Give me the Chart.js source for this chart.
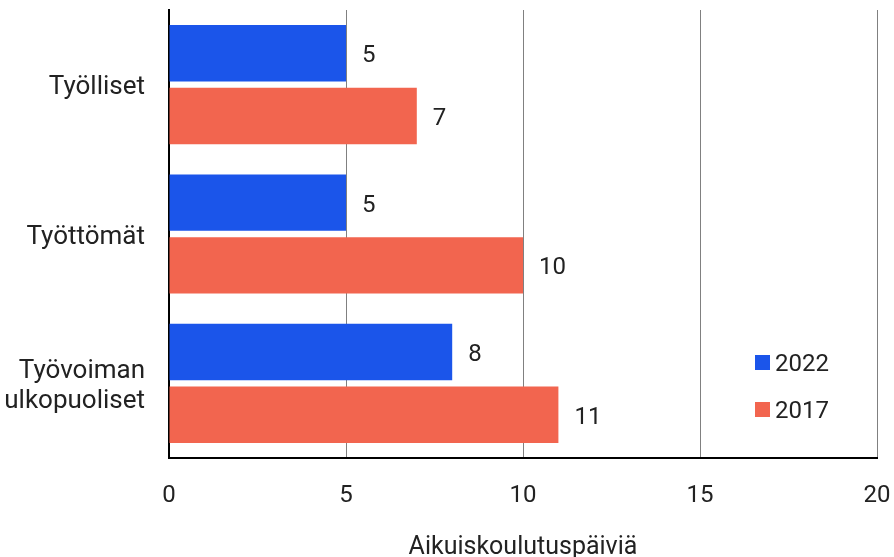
<!DOCTYPE html>
<html><head><meta charset="utf-8">
<script src="https://cdn.jsdelivr.net/npm/chart.js@4"></script>
<style>html,body{margin:0;padding:0;background:#fff}#wrap{width:894px;height:557px}</style>
</head><body><div id="wrap"><canvas id="c" width="894" height="557"></canvas></div>
<script>
const categories = [["Työlliset"], ["Työttömät"], ["Työvoiman", "ulkopuoliset"]];
const seriesNames = ["2022", "2017"];
const values2022 = [5, 5, 8];
const values2017 = [7, 10, 11];
const xTicks = [0, 5, 10, 15, 20];
const axisTitle = "Aikuiskoulutuspäiviä";
const colors = ["#1b55ea", "#f2654f"];
const FONT = "Roboto, 'Liberation Sans', sans-serif";
const FS = 24;

const labelPlugin = {
  id: 'valLabels',
  afterDatasetsDraw(chart) {
    const ctx = chart.ctx;
    ctx.save();
    ctx.font = FS + "px " + FONT;
    ctx.fillStyle = "#222";
    ctx.textAlign = "left";
    ctx.textBaseline = "middle";
    chart.data.datasets.forEach((ds, i) => {
      chart.getDatasetMeta(i).data.forEach((bar, j) => {
        ctx.fillText(String(ds.data[j]), bar.x + 16, bar.y + 3);
      });
    });
    ctx.restore();
  }
};

const legendPlugin = {
  id: 'insideLegend',
  afterDraw(chart) {
    const ctx = chart.ctx;
    const a = chart.chartArea;
    ctx.save();
    ctx.font = FS + "px " + FONT;
    ctx.textBaseline = "middle";
    ctx.textAlign = "left";
    chart.data.datasets.forEach((ds, i) => {
      const y = a.top + 353 + i * 47;
      ctx.fillStyle = ds.backgroundColor;
      ctx.fillRect(a.left + 586, y - 8, 15, 15);
      ctx.fillStyle = "#222";
      ctx.fillText(ds.label, a.left + 606, y + 2);
    });
    ctx.restore();
  }
};

new Chart(document.getElementById('c'), {
  type: 'bar',
  data: {
    labels: categories,
    datasets: [
      { label: seriesNames[0], data: values2022, backgroundColor: colors[0] },
      { label: seriesNames[1], data: values2017, backgroundColor: colors[1] }
    ]
  },
  options: {
    indexAxis: 'y',
    responsive: false,
    animation: false,
    devicePixelRatio: 1,
    layout: { padding: { top: 10, right: 17, left: 0, bottom: 0 } },
    datasets: { bar: { categoryPercentage: 0.84, barPercentage: 0.9 } },
    plugins: { legend: { display: false }, tooltip: { enabled: false } },
    scales: {
      x: {
        min: 0, max: 20,
        afterBuildTicks(scale) { scale.ticks = xTicks.map(v => ({ value: v })); },
        grid: { color: "#808080", lineWidth: 1, drawTicks: false },
        border: { color: "#000", width: 2 },
        ticks: { font: { family: FONT, size: FS, lineHeight: 1.2 }, color: "#222", padding: 24 },
        title: { display: true, text: axisTitle, font: { family: FONT, size: 25, lineHeight: 1.2 }, color: "#222", padding: { top: 18, bottom: -6 } },
        afterFit(scale) { scale.height = 99; scale.paddingLeft = 0; scale.paddingRight = 0; }
      },
      y: {
        grid: { display: false, drawTicks: false },
        border: { color: "#000", width: 2 },
        ticks: { font: { family: FONT, size: 26, lineHeight: 1.15 }, color: "#222", padding: 24, labelOffset: 3 },
        afterFit(scale) { scale.width = 169; scale.paddingTop = 0; scale.paddingBottom = 0; }
      }
    }
  },
  plugins: [labelPlugin, legendPlugin]
});
</script></body></html>
